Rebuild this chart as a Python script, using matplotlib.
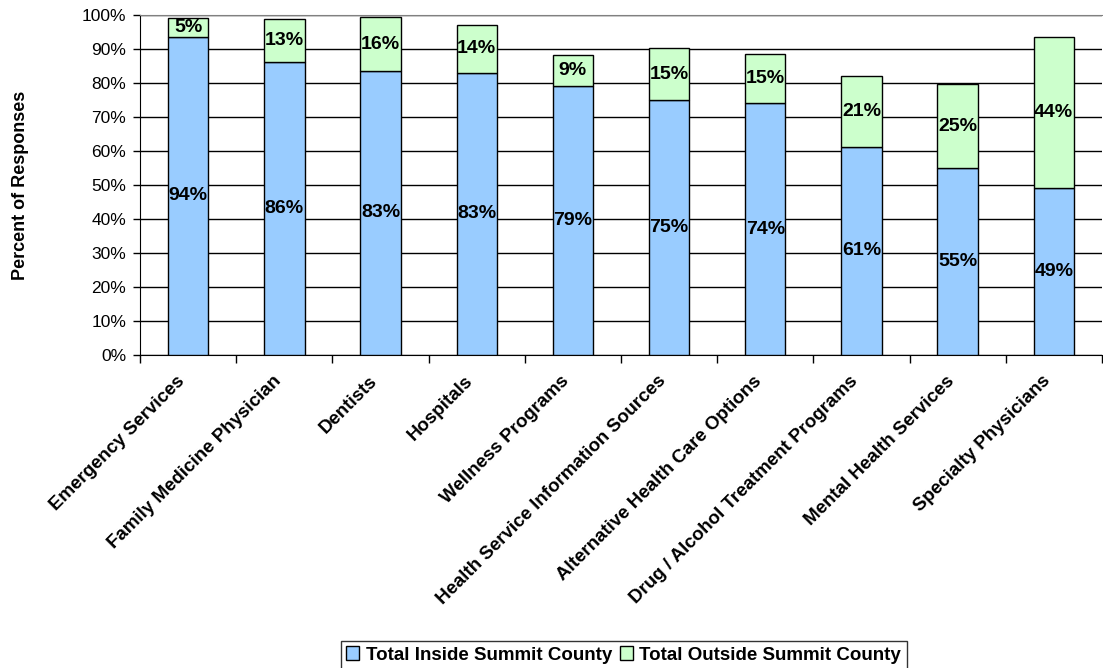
import matplotlib
matplotlib.use("Agg")
import matplotlib.pyplot as plt
import numpy as np
from matplotlib.ticker import FixedLocator, PercentFormatter
from matplotlib.transforms import ScaledTranslation

categories = ["Emergency Services", "Family Medicine Physician", "Dentists", "Hospitals",
              "Wellness Programs", "Health Service Information Sources",
              "Alternative Health Care Options", "Drug / Alcohol Treatment Programs",
              "Mental Health Services", "Specialty Physicians"]
inside = [93.6, 86.1, 83.6, 83.0, 79.1, 75.0, 74.0, 61.3, 55.0, 49.2]
outside = [5.4, 12.7, 15.7, 14.1, 9.0, 15.3, 14.6, 20.8, 24.7, 44.4]
inside_labels = ["94%", "86%", "83%", "83%", "79%", "75%", "74%", "61%", "55%", "49%"]
outside_labels = ["5%", "13%", "16%", "14%", "9%", "15%", "15%", "21%", "25%", "44%"]
series_names = ["Total Inside Summit County", "Total Outside Summit County"]

plt.rcParams['font.family'] = ['Liberation Sans', 'DejaVu Sans']

fig = plt.figure(figsize=(11.03, 6.68), dpi=100)
ax = fig.add_axes([0.127, 0.4686, 0.872, 0.5089])

x = np.arange(len(categories))
w = 0.42
b1 = ax.bar(x, inside, w, color="#99CCFF", edgecolor="black", linewidth=1.0,
            label=series_names[0], zorder=3)
b2 = ax.bar(x, outside, w, bottom=inside, color="#CCFFCC", edgecolor="black",
            linewidth=1.0, label=series_names[1], zorder=3)

for i in range(len(categories)):
    ax.text(x[i], inside[i] / 2, inside_labels[i], ha="center", va="center",
            fontsize=14, fontweight="bold", zorder=4)
    ax.text(x[i], inside[i] + outside[i] / 2, outside_labels[i], ha="center",
            va="center", fontsize=14, fontweight="bold", zorder=4)

ax.set_xlim(-0.5, len(categories) - 0.5)
ax.set_ylim(0, 100)
ax.set_yticks(np.arange(0, 101, 10))
ax.yaxis.set_major_formatter(PercentFormatter(decimals=0))
ax.yaxis.grid(True, color="black", linewidth=1.0, zorder=0)
ax.tick_params(axis="y", labelsize=12.5, length=5, width=1, pad=5)

ax.set_xticks(x)
ax.set_xticklabels(categories, rotation=45, ha="right", rotation_mode="anchor",
                   fontsize=13.5, fontweight="bold")
ax.tick_params(axis="x", which="major", length=0, pad=9)
offset = ScaledTranslation(-0.12, -0.05, fig.dpi_scale_trans)
for lab in ax.get_xticklabels():
    lab.set_transform(lab.get_transform() + offset)
ax.xaxis.set_minor_locator(FixedLocator(np.arange(-0.5, len(categories), 1.0)))
ax.tick_params(axis="x", which="minor", length=6, width=1)

ax.spines["top"].set_color("#808080")
ax.spines["right"].set_visible(False)
ax.spines["left"].set_color("black")
ax.spines["bottom"].set_color("black")

ax.set_ylabel("Percent of Responses", fontsize=13, fontweight="bold")
ax.yaxis.set_label_coords(-0.116, 0.5)

leg = fig.legend(handles=[b1, b2], labels=series_names, loc="center",
                 bbox_to_anchor=(0.5655, 0.0195), ncol=2, frameon=True,
                 fancybox=False, edgecolor="black", handlelength=0.7,
                 handleheight=0.7, handletextpad=0.35, columnspacing=0.4,
                 borderpad=0.3, prop={"weight": "bold", "size": 13.5})
leg.get_frame().set_linewidth(1.0)

fig.savefig("out.png", dpi=100)
